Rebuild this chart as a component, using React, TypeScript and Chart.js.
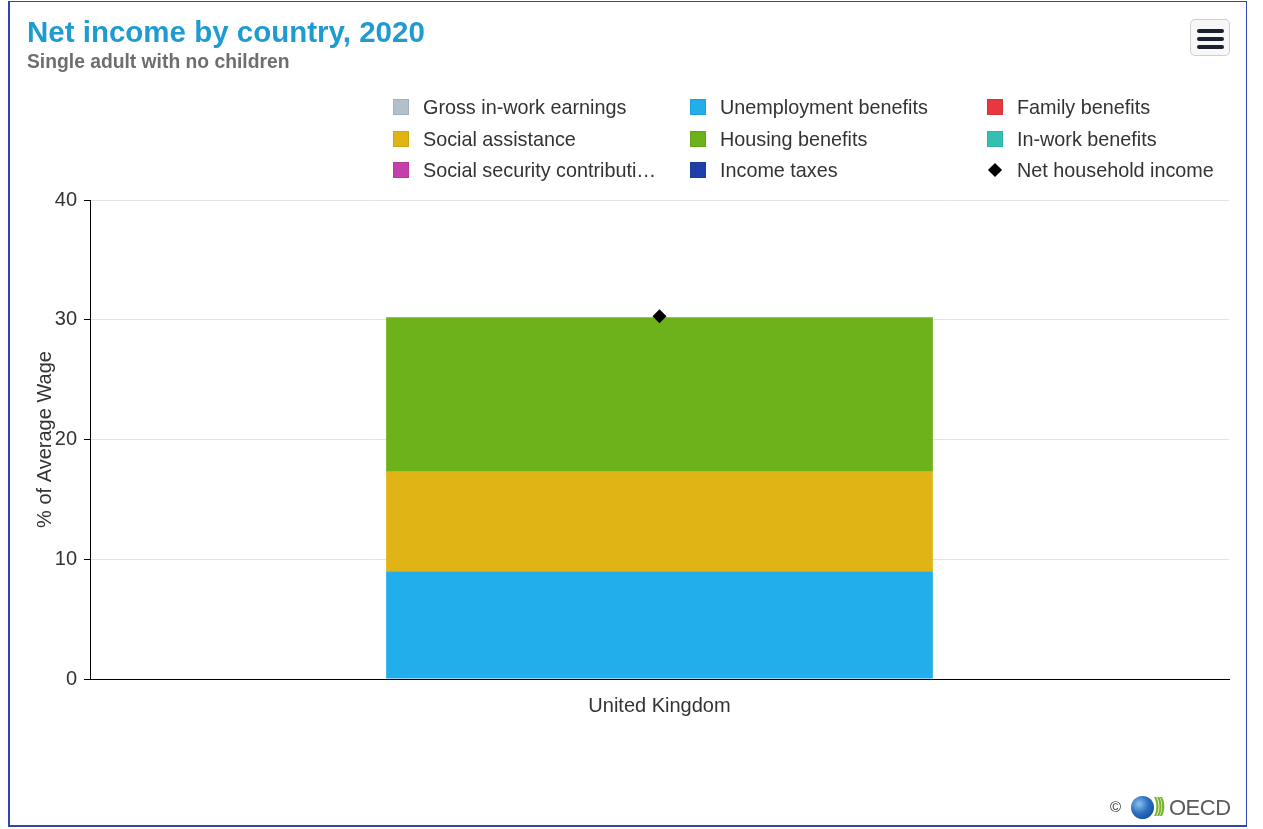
import React, { useEffect, useRef } from "react";
import { Chart, registerables } from "chart.js";

Chart.register(...registerables);

// ---- data ----
const categories = ["United Kingdom"];
const grossEarnings = [0];
const unemploymentBenefits = [9.0];
const familyBenefits = [0];
const socialAssistance = [8.3];
const housingBenefits = [12.9];
const inWorkBenefits = [0];
const socialSecurity = [0];
const incomeTaxes = [0];
const netIncome = [30.3];

const yMin = 0;
const yMax = 40;
const yStep = 10;

const titleText = "Net income by country, 2020";
const subtitleText = "Single adult with no children";
const yTitle = "% of Average Wage";

// legend in display order (3 columns)
const legendLabels = [
  "Gross in-work earnings",
  "Unemployment benefits",
  "Family benefits",
  "Social assistance",
  "Housing benefits",
  "In-work benefits",
  "Social security contributi…",
  "Income taxes",
  "Net household income",
];
const legendColors = [
  "#b3c0ca",
  "#22aeeb",
  "#e8373e",
  "#e0b414",
  "#6cb21a",
  "#33c0b2",
  "#c43fab",
  "#1d3faa",
  "#000000",
];

const FONT = "'Liberation Sans', Arial, Helvetica, sans-serif";

export default function App() {
  const canvasRef = useRef<HTMLCanvasElement | null>(null);

  useEffect(() => {
    const ctx = canvasRef.current!;
    const barDs = (label: string, data: number[], color: string) => ({
      type: "bar" as const,
      label,
      data,
      backgroundColor: color,
      borderWidth: 0,
      stack: "s",
      barPercentage: 0.48,
      categoryPercentage: 1,
    });
    const chart = new Chart(ctx, {
      type: "bar",
      data: {
        labels: categories,
        datasets: [
          barDs("Gross in-work earnings", grossEarnings, legendColors[0]),
          barDs("Unemployment benefits", unemploymentBenefits, legendColors[1]),
          barDs("Family benefits", familyBenefits, legendColors[2]),
          barDs("Social assistance", socialAssistance, legendColors[3]),
          barDs("Housing benefits", housingBenefits, legendColors[4]),
          barDs("In-work benefits", inWorkBenefits, legendColors[5]),
          barDs("Social security contributions", socialSecurity, legendColors[6]),
          barDs("Income taxes", incomeTaxes, legendColors[7]),
          {
            type: "line" as const,
            label: "Net household income",
            data: netIncome,
            stack: "net",
            showLine: false,
            pointStyle: "rectRot",
            pointRadius: 7,
            pointBackgroundColor: "#000",
            pointBorderColor: "#000",
            pointBorderWidth: 0,
            order: -1,
          } as any,
        ],
      },
      options: {
        responsive: false,
        animation: false,
        layout: { padding: { left: 29, right: 34, top: 200, bottom: 90 } },
        plugins: {
          legend: { display: false },
          tooltip: { enabled: false },
          title: { display: false },
        },
        scales: {
          x: {
            stacked: true,
            grid: { display: false },
            border: { display: true, color: "#000", width: 1 },
            ticks: { color: "#333", font: { family: FONT, size: 20 }, padding: 7 },
            afterFit: (s: any) => {
              s.height = 60;
            },
          },
          y: {
            stacked: true,
            min: yMin,
            max: yMax,
            ticks: {
              stepSize: yStep,
              color: "#333",
              font: { family: FONT, size: 20 },
              padding: 7,
            },
            grid: { color: "#e3e3e3", tickColor: "#000", tickLength: 6 },
            border: { display: true, color: "#000", width: 1 },
            title: {
              display: true,
              text: yTitle,
              color: "#333",
              font: { family: FONT, size: 20 },
            },
            afterFit: (s: any) => {
              s.width = 61;
            },
          },
        },
      },
    });
    return () => chart.destroy();
  }, []);

  return (
    <div
      style={{
        position: "absolute",
        left: 0,
        top: 0,
        width: 1263,
        height: 829,
        background: "#fff",
        fontFamily: FONT,
        overflow: "hidden",
      }}
    >
      {/* frame */}
      <div
        style={{
          position: "absolute",
          left: 8,
          top: 1,
          width: 1239,
          height: 826,
          border: "1px solid #2f45b0",
          borderLeftWidth: 2,
          borderBottomWidth: 2,
          boxSizing: "border-box",
        }}
      />
      <canvas
        ref={canvasRef}
        width={1263}
        height={829}
        style={{ position: "absolute", left: 0, top: 0, width: 1263, height: 829 }}
      />
      {/* title */}
      <div
        style={{
          position: "absolute",
          left: 27,
          top: 15,
          fontSize: 29.5,
          fontWeight: "bold",
          color: "#1f9bd2",
          whiteSpace: "nowrap",
        }}
      >
        {titleText}
      </div>
      <div
        style={{
          position: "absolute",
          left: 27,
          top: 51,
          fontSize: 19.3,
          fontWeight: "bold",
          color: "#6e6e6e",
          whiteSpace: "nowrap",
        }}
      >
        {subtitleText}
      </div>
      {/* menu button */}
      <div
        style={{
          position: "absolute",
          left: 1190,
          top: 19,
          width: 40,
          height: 37,
          boxSizing: "border-box",
          border: "1px solid #cfcfcf",
          borderRadius: 5,
          background: "#f7f7f7",
        }}
      >
        {[9, 17, 25].map((t) => (
          <div
            key={t}
            style={{
              position: "absolute",
              left: 6,
              top: t,
              width: 27,
              height: 3.5,
              borderRadius: 2,
              background: "#1b2030",
            }}
          />
        ))}
      </div>
      {/* legend */}
      {legendLabels.map((lab, i) => {
        const col = i % 3;
        const row = Math.floor(i / 3);
        const x = 393 + col * 297;
        const y = 107 + row * 31.5;
        const isDiamond = i === legendLabels.length - 1;
        return (
          <div key={lab} style={{ position: "absolute", left: x, top: y - 12, height: 24 }}>
            {isDiamond ? (
              <div
                style={{
                  position: "absolute",
                  left: 3,
                  top: 7,
                  width: 10,
                  height: 10,
                  background: legendColors[i],
                  transform: "rotate(45deg)",
                }}
              />
            ) : (
              <div
                style={{
                  position: "absolute",
                  left: 0,
                  top: 4,
                  width: 16,
                  height: 16,
                  boxSizing: "border-box",
                  background: legendColors[i],
                  border: "1px solid rgba(0,0,0,0.08)",
                }}
              />
            )}
            <div
              style={{
                position: "absolute",
                left: 30,
                top: 0,
                fontSize: 19.8,
                lineHeight: "24px",
                color: "#333",
                whiteSpace: "nowrap",
              }}
            >
              {lab}
            </div>
          </div>
        );
      })}
      {/* credits */}
      <span style={{ position: "absolute", left: 1110, top: 798, fontSize: 15, color: "#333" }}>©</span>
      <div
        style={{
          position: "absolute",
          left: 1131,
          top: 796,
          width: 23,
          height: 23,
          borderRadius: "50%",
          background: "radial-gradient(circle at 35% 35%, #8fc0ec 0%, #2a6fc0 45%, #0d3f8c 100%)",
        }}
      />
      <span
        style={{
          position: "absolute",
          left: 1154,
          top: 794,
          fontSize: 20,
          fontWeight: "bold",
          color: "#7ab42a",
          letterSpacing: -3,
          transform: "scaleX(0.8)",
          transformOrigin: "left center",
        }}
      >
        {")))"}
      </span>
      <span style={{ position: "absolute", left: 1169, top: 795, fontSize: 22, color: "#5a5a5a", letterSpacing: -0.5 }}>
        OECD
      </span>
    </div>
  );
}
